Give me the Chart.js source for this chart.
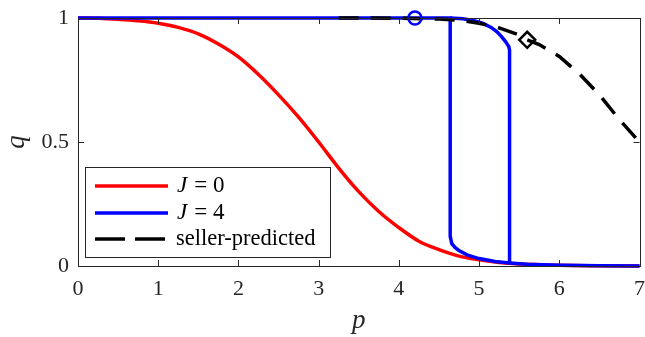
<!DOCTYPE html>
<html><head><meta charset="utf-8">
<script src="https://cdn.jsdelivr.net/npm/chart.js@4"></script>
<style>html,body{margin:0;padding:0;background:#fff;overflow:hidden}</style>
</head><body>
<canvas id="c" width="650" height="337"></canvas>
<script>
// ---- data ----
const redP = [0,0.25,0.5,0.75,1,1.25,1.5,1.75,2,2.25,2.5,2.75,3,3.25,3.5,3.75,4,4.25,4.5,4.75,5,5.25,5.5,6,6.5,7];
const redQ = [1,0.999,0.995,0.989,0.979,0.962,0.936,0.895,0.843,0.772,0.69,0.60,0.50,0.395,0.30,0.22,0.155,0.10,0.066,0.04,0.025,0.014,0.008,0.003,0.001,0];

const blueLowP = [0,4.64,4.64,4.66,4.7,4.75,4.85,5,5.2,5.38,5.6,6,6.5,7];
const blueLowQ = [1,1,0.12,0.09,0.075,0.062,0.045,0.03,0.018,0.012,0.007,0.003,0.001,0];
const blueUpP = [4.64,4.8,4.95,5.05,5.15,5.22,5.28,5.33,5.37,5.38,5.38];
const blueUpQ = [1,0.997,0.988,0.978,0.962,0.945,0.925,0.905,0.885,0.87,0.012];

const sellerP = [3.25,3.5,4,4.5,4.75,5,5.25,5.5,5.6,5.75,6,6.25,6.5,6.75,7];
const sellerQ = [1,1,0.999,0.996,0.991,0.979,0.96,0.932,0.912,0.893,0.845,0.775,0.69,0.59,0.5];

const circleP = [4.2], circleQ = [1];
const diamondP = [5.6], diamondQ = [0.912];

const xTicks = [0,1,2,3,4,5,6,7];
const yTicks = [0,0.5,1];
const seriesLabels = ['J = 0','J = 4','seller-predicted'];

const pts = (xs, ys) => xs.map((x,i)=>({x, y: ys[i]}));
const FONT = '"Liberation Serif", "DejaVu Serif", serif';
const AX = '#262626';

const framePlugin = {
  id:'frame',
  afterDraw(chart){
    const {ctx, chartArea:a, scales:{x, y}} = chart;
    ctx.save();
    ctx.strokeStyle = AX; ctx.lineWidth = 1;
    ctx.strokeRect(Math.round(a.left)+0.5, Math.round(a.top)+0.5, Math.round(a.right-a.left), Math.round(a.bottom-a.top));
    const tl = 6;
    ctx.beginPath();
    xTicks.forEach(v=>{const px=Math.round(x.getPixelForValue(v))+0.5;
      ctx.moveTo(px,a.bottom); ctx.lineTo(px,a.bottom-tl);
      ctx.moveTo(px,a.top); ctx.lineTo(px,a.top+tl);});
    yTicks.forEach(v=>{const py=Math.round(y.getPixelForValue(v))+0.5;
      ctx.moveTo(a.left,py); ctx.lineTo(a.left+tl,py);
      ctx.moveTo(a.right,py); ctx.lineTo(a.right-tl,py);});
    ctx.stroke();

    // legend
    const bx=85.5, by=167.5, bw=245, bh=90;
    ctx.fillStyle='#fff'; ctx.fillRect(bx,by,bw,bh);
    ctx.strokeStyle=AX; ctx.lineWidth=1; ctx.strokeRect(bx,by,bw,bh);
    const rows=[186,213,239];
    const ds = chart.data.datasets;
    const entries=[ds[0],ds[1],ds[3]];
    entries.forEach((d,i)=>{
      ctx.save();
      ctx.strokeStyle=d.borderColor; ctx.lineWidth=3.5;
      ctx.setLineDash(d.borderDash? [30,10]:[]);
      ctx.beginPath(); ctx.moveTo(95,rows[i]); ctx.lineTo(168,rows[i]); ctx.stroke();
      ctx.restore();
      ctx.fillStyle='#000'; ctx.textBaseline='middle'; ctx.textAlign='left';
      const lab = d.label;
      if (lab.startsWith('J')) {
        ctx.font='italic 23px '+FONT;
        ctx.fillText('J',177,rows[i]);
        const w=ctx.measureText('J').width;
        ctx.font='23px '+FONT;
        ctx.fillText('= '+lab.split('= ')[1],177+w+7,rows[i]);
      } else {
        ctx.font='22.5px '+FONT;
        ctx.fillText(lab,176,rows[i]);
      }
    });
    ctx.restore();
  }
};

function build(){
new Chart(document.getElementById('c'), {
  type:'scatter',
  data:{datasets:[
    {label:seriesLabels[0], data:pts(redP,redQ), showLine:true, cubicInterpolationMode:'monotone', borderColor:'#ff0000', borderWidth:3.5, pointRadius:0, clip:6, order:4},
    {label:seriesLabels[1], data:pts(blueLowP,blueLowQ), showLine:true, borderColor:'#0000ff', borderWidth:3.5, pointRadius:0, clip:6, order:3},
    {label:'J = 4 upper', data:pts(blueUpP,blueUpQ), showLine:true, borderColor:'#0000ff', borderWidth:3.5, pointRadius:0, clip:6, order:3},
    {label:seriesLabels[2], data:pts(sellerP,sellerQ), showLine:true, borderColor:'#000000', borderWidth:3.5, borderDash:[20,12], pointRadius:0, clip:6, order:2},
    {label:'circle', data:pts(circleP,circleQ), showLine:false, pointStyle:'circle', pointRadius:6.5, borderColor:'#0000ff', borderWidth:2.5, backgroundColor:'rgba(0,0,0,0)', clip:10, order:1},
    {label:'diamond', data:pts(diamondP,diamondQ), showLine:false, pointStyle:'rectRot', pointRadius:8, borderColor:'#000000', borderWidth:2.5, backgroundColor:'rgba(0,0,0,0)', clip:10, order:1}
  ]},
  options:{
    responsive:false, animation:false, devicePixelRatio:1,
    layout:{padding:{left:0,right:0,top:18,bottom:0}},
    plugins:{legend:{display:false}, tooltip:{enabled:false}},
    scales:{
      x:{type:'linear', min:0, max:7,
        afterFit(s){s.height=71; s.paddingLeft=0; s.paddingRight=0;},
        afterBuildTicks(s){s.ticks=xTicks.map(v=>({value:v}));},
        grid:{display:false, drawTicks:false}, border:{display:false},
        ticks:{font:{family:FONT,size:22}, color:'#262626', padding:10, maxRotation:0,
          callback:v=>String(v)},
        title:{display:true, text:'p', font:{family:FONT,size:27,style:'italic'}, color:'#262626', padding:{top:0,bottom:0}}
      },
      y:{type:'linear', min:0, max:1,
        afterFit(s){s.width=78; s.paddingTop=0; s.paddingBottom=0;},
        afterBuildTicks(s){s.ticks=yTicks.map(v=>({value:v}));},
        grid:{display:false, drawTicks:false}, border:{display:false},
        ticks:{font:{family:FONT,size:22}, color:'#262626', padding:9,
          callback:v=>String(v)},
        title:{display:true, text:'q', font:{family:FONT,size:27,style:'italic'}, color:'#262626', padding:{top:1,bottom:0}}
      }
    }
  },
  plugins:[framePlugin]
});
}
Promise.all([
  document.fonts.load('22px "Liberation Serif"'),
  document.fonts.load('italic 23px "Liberation Serif"')
]).catch(()=>{}).then(build);
</script>
</body></html>
